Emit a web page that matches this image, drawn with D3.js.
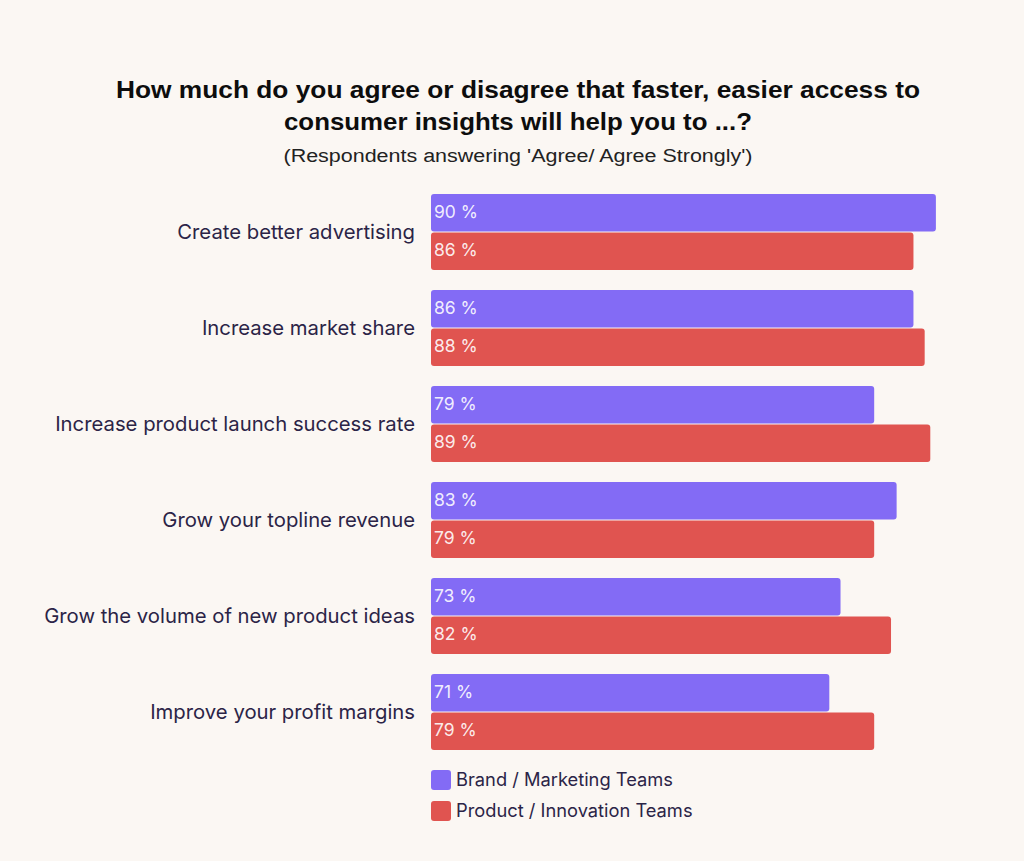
<!DOCTYPE html>
<html><head><meta charset="utf-8">
<script src="https://cdn.jsdelivr.net/npm/d3@7"></script>
<style>
html,body{margin:0;padding:0;background:#fbf7f3;}
svg{display:block;}
</style></head><body>
<svg id="chart" width="1024" height="861"></svg>
<script>
const categories = ["Create better advertising","Increase market share","Increase product launch success rate","Grow your topline revenue","Grow the volume of new product ideas","Improve your profit margins"];
const seriesNames = ["Brand / Marketing Teams","Product / Innovation Teams"];
const brandValues = [90,86,79,83,73,71];
const productValues = [86,88,89,79,82,79];
const seriesColors = ["#836bf5","#e05450"];
const titleLines = ["How much do you agree or disagree that faster, easier access to","consumer insights will help you to ...?"];
const subtitle = "(Respondents answering 'Agree/ Agree Strongly')";

const svg = d3.select("#chart");
svg.append("rect").attr("width",1024).attr("height",861).attr("fill","#fbf7f3");

const labelFont = "Inter, 'Noto Sans', sans-serif";
const textColor = "#2b2447";

svg.selectAll("text.title").data(titleLines).join("text")
  .attr("class","title")
  .attr("x",518).attr("y",(d,i)=>98+i*32)
  .attr("text-anchor","middle")
  .attr("font-family","'Liberation Sans', Arial, sans-serif")
  .attr("font-weight","bold").attr("font-size",24).attr("fill","#0d0d0d")
  .attr("textLength",(d,i)=>i===0?804:468).attr("lengthAdjust","spacingAndGlyphs")
  .text(d=>d);
svg.append("text").attr("x",518).attr("y",162).attr("text-anchor","middle")
  .attr("font-family","'Liberation Sans', Arial, sans-serif").attr("font-size",18).attr("fill","#222")
  .attr("textLength",469).attr("lengthAdjust","spacingAndGlyphs")
  .text(subtitle);

const x = d3.scaleLinear().domain([0,100]).range([431,992]);
const step = 96, bw = 76;
const y = d3.scaleBand().domain(categories).range([194, 194 + step*6]);
const yPos = c => y(c);
const ySub = d3.scaleBand().domain(seriesNames).range([0,bw]).paddingInner(0.02);

const data = categories.map((c,i)=>({cat:c, values:[brandValues[i],productValues[i]]}));

const g = svg.selectAll("g.grp").data(data).join("g").attr("class","grp")
  .attr("transform",d=>`translate(0,${yPos(d.cat)})`);

g.append("text").attr("x",415).attr("y",bw/2).attr("dy","0.35em")
  .attr("text-anchor","end").attr("font-family",labelFont).attr("font-size",20.3)
  .attr("fill",textColor).text(d=>d.cat);

const bars = g.selectAll("g.bar").data(d=>d.values.map((v,j)=>({v,s:seriesNames[j],j}))).join("g").attr("class","bar");
bars.append("rect").attr("x",x(0)).attr("y",d=>ySub(d.s))
  .attr("width",d=>x(d.v)-x(0)).attr("height",ySub.bandwidth())
  .attr("rx",3).attr("fill",d=>seriesColors[d.j]);
bars.append("text").attr("x",x(0)+3).attr("y",d=>ySub(d.s)+ySub.bandwidth()/2 - 1).attr("dy","0.35em")
  .attr("font-family",labelFont).attr("font-size",17.5).attr("fill","#fff").attr("fill-opacity",0.9)
  .text(d=>d.v+" %");

const leg = svg.selectAll("g.leg").data(seriesNames).join("g").attr("class","leg")
  .attr("transform",(d,i)=>`translate(431,${770+i*31})`);
leg.append("rect").attr("width",20).attr("height",20).attr("rx",3).attr("fill",(d,i)=>seriesColors[i]);
leg.append("text").attr("x",25).attr("y",10).attr("dy","0.35em").attr("font-family",labelFont)
  .attr("font-size",18.3).attr("fill",textColor).text(d=>d);
</script></body></html>
